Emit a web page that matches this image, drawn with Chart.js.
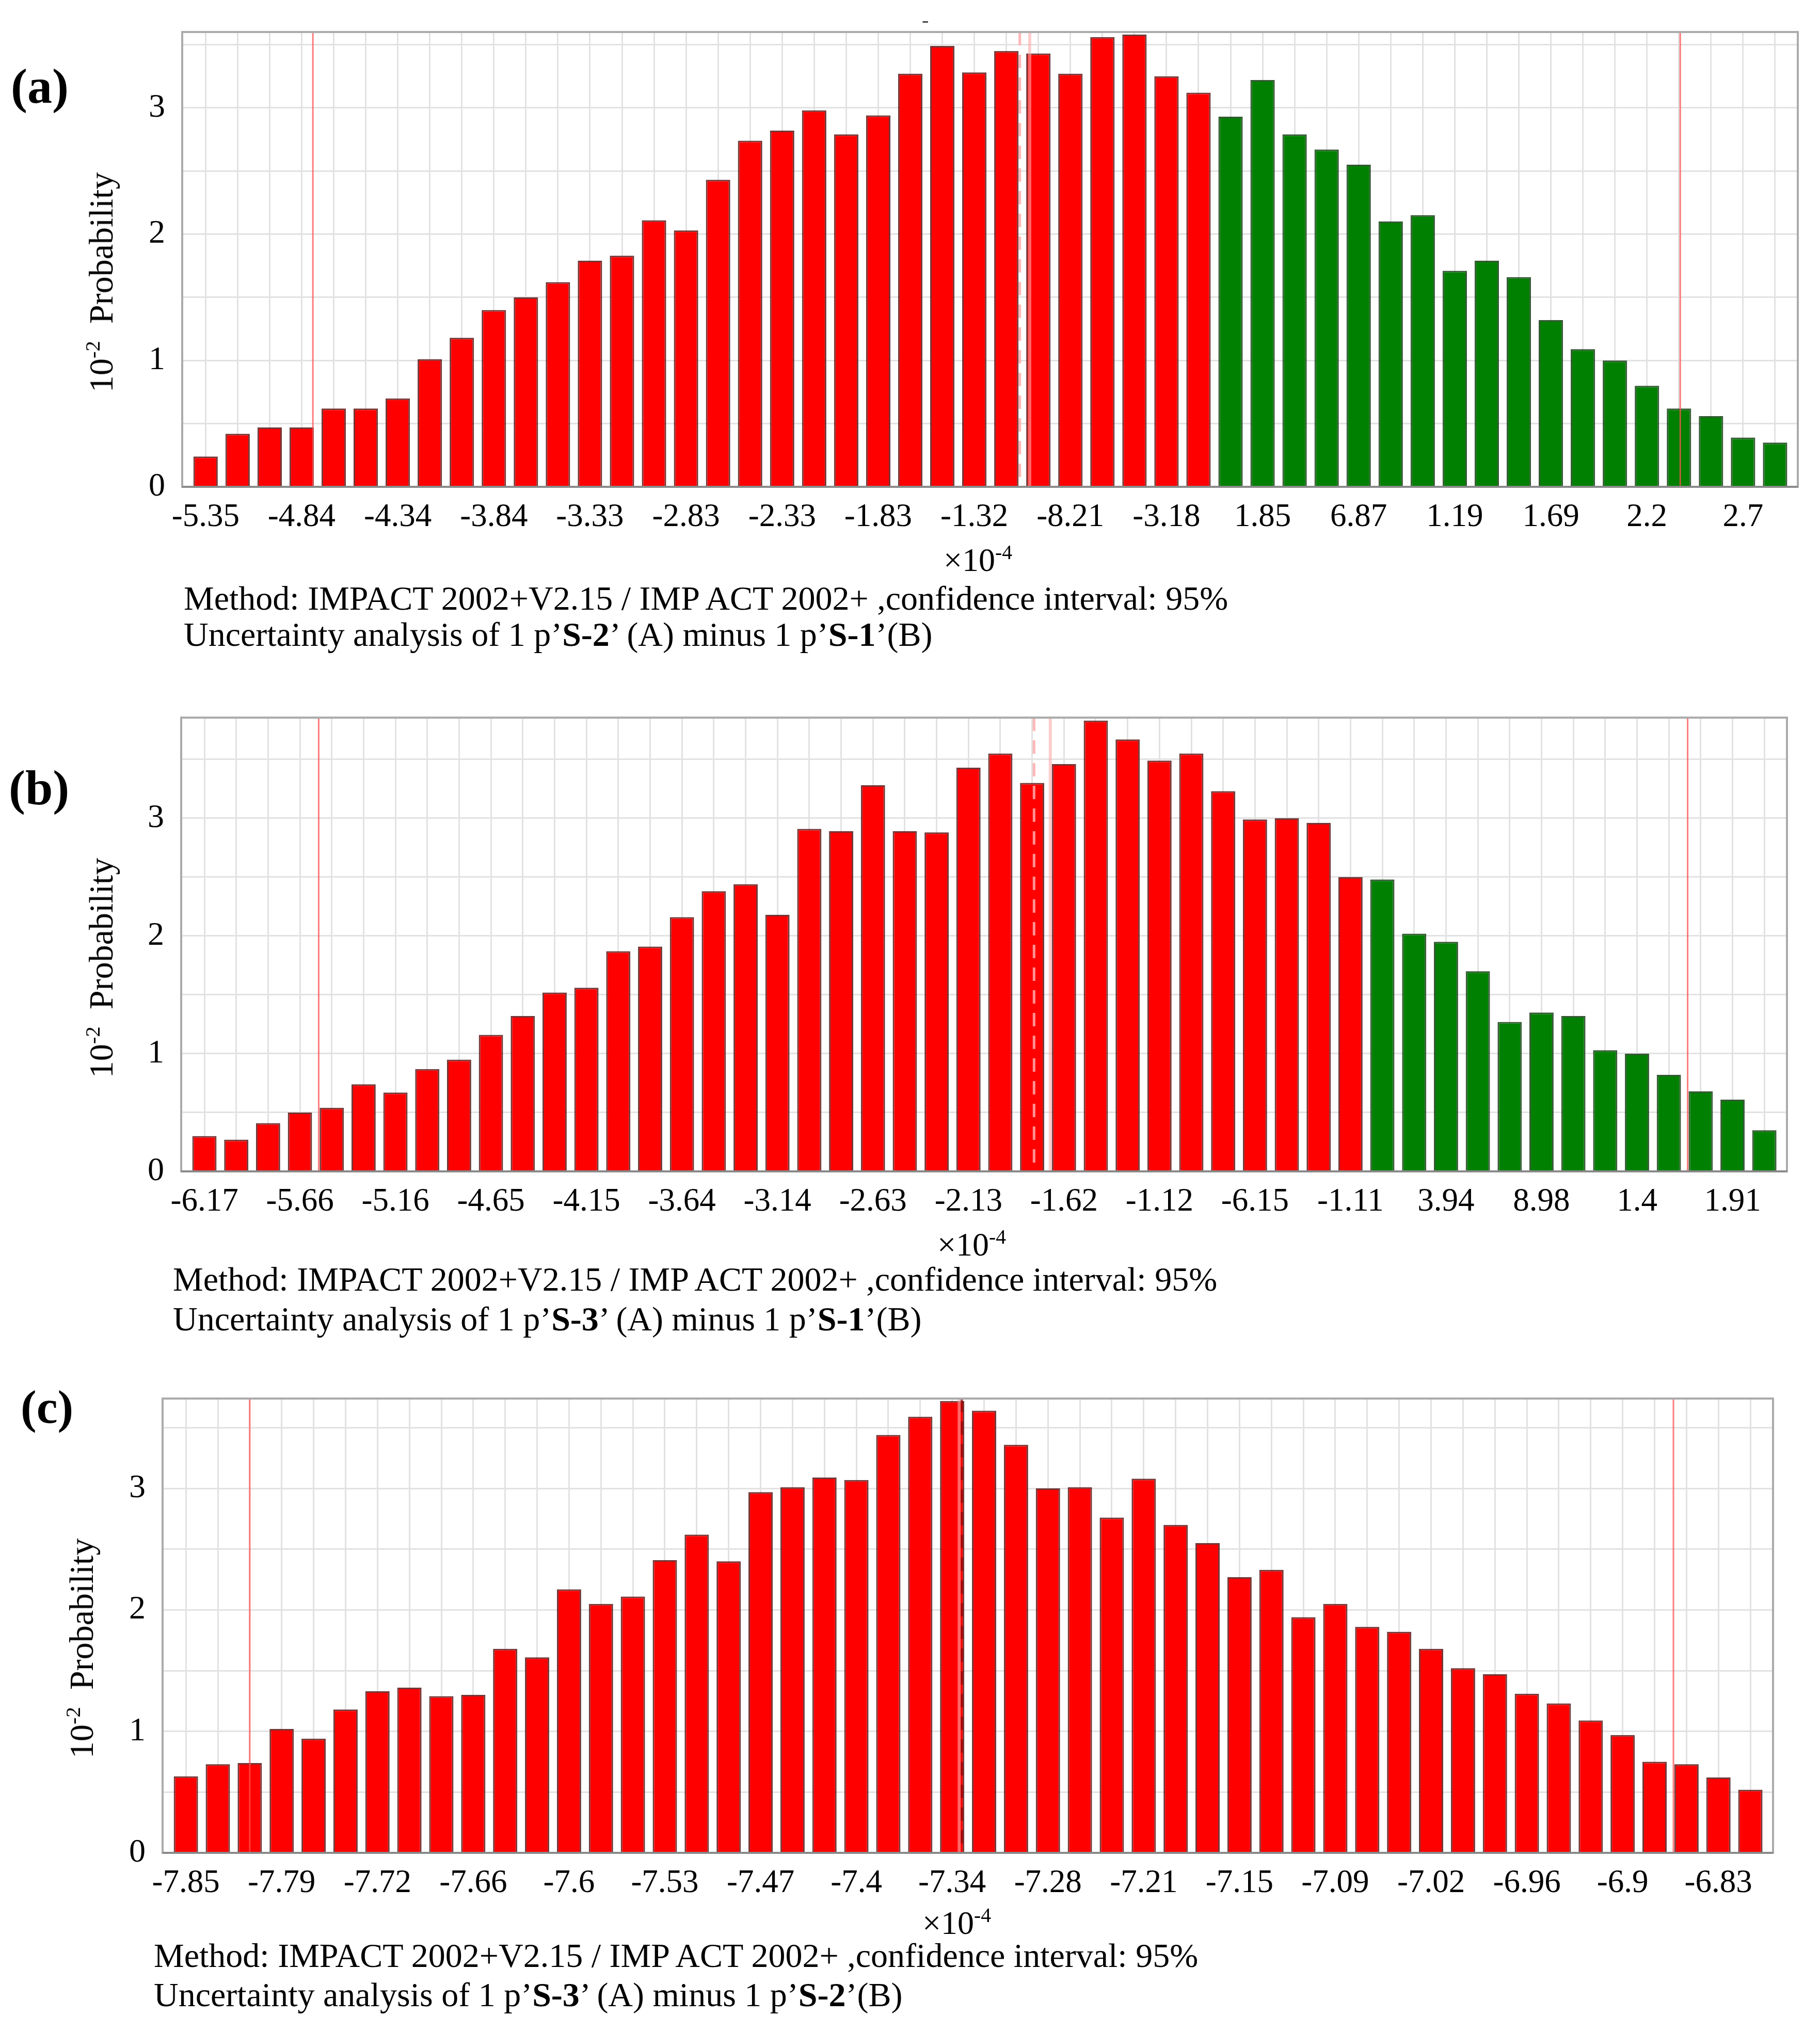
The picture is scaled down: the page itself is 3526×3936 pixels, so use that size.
<!DOCTYPE html>
<html>
<head>
<meta charset="utf-8">
<script src="https://cdn.jsdelivr.net/npm/chart.js@4.4.1/dist/chart.umd.min.js"></script>
<style>
  html, body { margin: 0; padding: 0; background: #fff; }
  body { width: 3526px; height: 3936px; position: relative; overflow: hidden;
         font-family: 'Liberation Serif', 'Times New Roman', serif; color: #000; }
  .box { position: absolute; }
  .txt { position: absolute; white-space: nowrap; line-height: 1; }
  .sup { font-size: 0.62em; position: relative; top: -0.6em; }
</style>
</head>
<body>
<script>
// (a) S-2 minus S-1, probability in 10^-2, one value per bin
const probA = [0.24, 0.42, 0.47, 0.47, 0.62, 0.62, 0.70, 1.01, 1.18, 1.40,
               1.50, 1.62, 1.79, 1.83, 2.11, 2.03, 2.43, 2.74, 2.82, 2.98,
               2.79, 2.94, 3.27, 3.49, 3.28, 3.45, 3.43, 3.27, 3.56, 3.58,
               3.25, 3.12, 2.93, 3.22, 2.79, 2.67, 2.55, 2.10, 2.15, 1.71,
               1.79, 1.66, 1.32, 1.09, 1.00, 0.80, 0.62, 0.56, 0.39, 0.35];
const ticksA = ['-5.35', '-4.84', '-4.34', '-3.84', '-3.33', '-2.83', '-2.33', '-1.83', '-1.32',
                '-8.21', '-3.18', '1.85', '6.87', '1.19', '1.69', '2.2', '2.7'];
const redCountA = 32;           // bins below zero (A < B)
const ciA = [3.35, 46.04];      // 95% interval, in bin units
const midA = [25.42, 25.73];    // dashed / solid centre lines

// (b) S-3 minus S-1
const probB = [0.30, 0.27, 0.41, 0.50, 0.54, 0.74, 0.67, 0.87, 0.95, 1.16,
               1.32, 1.52, 1.56, 1.87, 1.91, 2.16, 2.38, 2.44, 2.18, 2.91,
               2.89, 3.28, 2.89, 2.88, 3.43, 3.55, 3.30, 3.46, 3.83, 3.67,
               3.49, 3.55, 3.23, 2.99, 3.00, 2.96, 2.50, 2.48, 2.02, 1.95,
               1.70, 1.27, 1.35, 1.32, 1.03, 1.00, 0.82, 0.68, 0.61, 0.35];
const ticksB = ['-6.17', '-5.66', '-5.16', '-4.65', '-4.15', '-3.64', '-3.14', '-2.63', '-2.13',
                '-1.62', '-1.12', '-6.15', '-1.11', '3.94', '8.98', '1.4', '1.91'];
const redCountB = 37;
const ciB = [3.59, 46.59];
const midB = [26.06, 26.57];

// (c) S-3 minus S-2
const probC = [0.63, 0.73, 0.74, 1.02, 0.94, 1.18, 1.33, 1.36, 1.29, 1.30,
               1.68, 1.61, 2.17, 2.05, 2.11, 2.41, 2.62, 2.40, 2.97, 3.01,
               3.09, 3.07, 3.44, 3.59, 3.72, 3.64, 3.36, 3.00, 3.01, 2.76,
               3.08, 2.70, 2.55, 2.27, 2.33, 1.94, 2.05, 1.86, 1.82, 1.68,
               1.52, 1.47, 1.31, 1.23, 1.09, 0.97, 0.75, 0.73, 0.62, 0.52];
const ticksC = ['-7.85', '-7.79', '-7.72', '-7.66', '-7.6', '-7.53', '-7.47', '-7.4', '-7.34',
                '-7.28', '-7.21', '-7.15', '-7.09', '-7.02', '-6.96', '-6.9', '-6.83'];
const redCountC = 50;
const ciC = [2.0, 46.59];
const midC = [24.30, 24.22];

const FONT = "'Liberation Serif', 'Times New Roman', serif";
Chart.defaults.font.family = FONT;
Chart.defaults.color = '#000';

// draws the interval lines and the plot frame
const markerLines = {
  id: 'markerLines',
  afterDatasetsDraw(chart, args, opts) {
    const ctx = chart.ctx, a = chart.chartArea, x = chart.scales.x;
    ctx.save();
    ctx.beginPath();
    ctx.rect(a.left, a.top, a.right - a.left, a.bottom - a.top);
    ctx.clip();
    opts.lines.forEach(l => {
      const px = x.getPixelForValue(l.at);
      ctx.strokeStyle = l.color;
      ctx.lineWidth = l.width;
      ctx.setLineDash(l.dash || []);
      ctx.beginPath();
      ctx.moveTo(px, a.top);
      ctx.lineTo(px, a.bottom);
      ctx.stroke();
    });
    ctx.restore();

    ctx.save();
    ctx.strokeStyle = '#ababab';
    ctx.lineWidth = 4;
    ctx.strokeRect(a.left, a.top, a.right - a.left, a.bottom - a.top);
    ctx.strokeStyle = '#8a8a8a';
    ctx.beginPath();
    ctx.moveTo(a.left, a.bottom);
    ctx.lineTo(a.right, a.bottom);
    ctx.stroke();
    ctx.restore();
  }
};

function addText(html, left, baseline, size, extra) {
  const d = document.createElement('div');
  d.className = 'txt';
  d.innerHTML = html;
  d.style.left = left + 'px';
  d.style.top = (baseline - 0.8375 * size) + 'px';
  d.style.fontSize = size + 'px';
  if (extra) Object.assign(d.style, extra);
  document.body.appendChild(d);
}

function addYTitle(cx, cy) {
  const d = document.createElement('div');
  d.className = 'txt';
  d.innerHTML = '10<span class="sup">-2</span>&nbsp;&nbsp;Probability';
  d.style.fontSize = '66px';
  d.style.left = cx + 'px';
  d.style.top = cy + 'px';
  d.style.transform = 'translate(-50%, -50%) rotate(-90deg)';
  document.body.appendChild(d);
}

function drawPanel(p) {
  const padTop = 20, padRight = 20, axisH = 110;
  const box = document.createElement('div');
  box.className = 'box';
  box.style.left = '0px';
  box.style.top = (p.top - padTop) + 'px';
  box.style.width = (p.right + padRight) + 'px';
  box.style.height = (p.bottom - p.top + padTop + axisH) + 'px';
  const cv = document.createElement('canvas');
  box.appendChild(cv);
  document.body.appendChild(box);

  const colors = p.values.map((v, i) => i < p.redCount ? '#ff0000' : '#008000');
  const borders = p.values.map((v, i) => i < p.redCount ? 'rgba(90,20,20,0.85)' : 'rgba(20,60,20,0.85)');

  const lines = [
    { at: p.ci[0], color: 'rgba(255,80,80,0.75)', width: 3 },
    { at: p.ci[1], color: 'rgba(255,80,80,0.75)', width: 3 },
    { at: p.mid[0], color: p.dashColor, width: 5, dash: [26, 18] },
    { at: p.mid[1], color: 'rgba(255,170,170,0.6)', width: 6 }
  ];

  new Chart(cv, {
    type: 'bar',
    data: {
      datasets: [{
        data: p.values.map((v, i) => ({ x: i, y: v })),
        backgroundColor: colors,
        borderColor: borders,
        borderWidth: 3,
        barPercentage: 0.76,
        categoryPercentage: 1
      }]
    },
    options: {
      responsive: true,
      maintainAspectRatio: false,
      animation: false,
      layout: { autoPadding: false, padding: { top: padTop, right: padRight, left: 0, bottom: 0 } },
      plugins: {
        legend: { display: false },
        tooltip: { enabled: false },
        markerLines: { lines: lines }
      },
      scales: {
        x: {
          type: 'linear',
          offset: false,
          min: -0.73,
          max: 49.71,
          afterBuildTicks: s => { s.ticks = p.values.map((v, i) => ({ value: i })); },
          afterFit: s => { s.height = axisH; s.paddingLeft = 0; s.paddingRight = 0; },
          grid: { color: '#e2e2e2', lineWidth: 3, drawTicks: false, offset: false },
          border: { display: false },
          ticks: {
            autoSkip: false,
            maxRotation: 0,
            padding: 22,
            font: { size: 63 },
            callback: v => (v % 3 === 0 ? p.ticks[v / 3] : '')
          }
        },
        y: {
          min: 0,
          max: p.ymax,
          afterFit: s => { s.width = p.left; s.paddingTop = 0; s.paddingBottom = 0; },
          grid: { color: '#e2e2e2', lineWidth: 3, drawTicks: false },
          border: { display: false },
          ticks: {
            stepSize: 0.5,
            includeBounds: false,
            padding: 33,
            font: { size: 64 },
            callback: v => (Number.isInteger(v) ? v : '')
          }
        }
      }
    },
    plugins: [markerLines]
  });
}

drawPanel({ values: probA, ticks: ticksA, redCount: redCountA, ci: ciA, mid: midA,
            left: 353, right: 3483, top: 62, bottom: 943, ymax: 3.6,
            dashColor: 'rgba(255,170,170,0.85)' });
drawPanel({ values: probB, ticks: ticksB, redCount: redCountB, ci: ciB, mid: midB,
            left: 351, right: 3462, top: 1390, bottom: 2269, ymax: 3.855,
            dashColor: 'rgba(255,170,170,0.85)' });
drawPanel({ values: probC, ticks: ticksC, redCount: redCountC, ci: ciC, mid: midC,
            left: 315, right: 3435, top: 2709, bottom: 3589, ymax: 3.74,
            dashColor: 'rgba(140,0,0,0.7)' });

// panel letters
addText('(a)', 21, 199, 96, { fontWeight: 'bold' });
addText('(b)', 17, 1558, 96, { fontWeight: 'bold' });
addText('(c)', 40, 2756, 92, { fontWeight: 'bold' });

// stray dash above panel (a)
addText('-', 1786, 52, 40, { color: '#444' });

// y titles
addYTitle(196, 547);
addYTitle(196, 1875);
addYTitle(158, 3193);

// x multiplier
const mult = '&times;10<span class="sup">-4</span>';
addText(mult, 1828, 1107, 64);
addText(mult, 1816, 2433, 64);
addText(mult, 1787, 3747, 64);

// method captions
const method = 'Method: IMPACT 2002+V2.15 / IMP ACT 2002+ ,confidence interval: 95%';
addText(method, 356, 1181, 66);
addText('Uncertainty analysis of 1 p&rsquo;<b>S-2</b>&rsquo; (A) minus 1 p&rsquo;<b>S-1</b>&rsquo;(B)', 356, 1251, 66);
addText(method, 335, 2500, 66);
addText('Uncertainty analysis of 1 p&rsquo;<b>S-3</b>&rsquo; (A) minus 1 p&rsquo;<b>S-1</b>&rsquo;(B)', 335, 2577, 66);
addText(method, 298, 3810, 66);
addText('Uncertainty analysis of 1 p&rsquo;<b>S-3</b>&rsquo; (A) minus 1 p&rsquo;<b>S-2</b>&rsquo;(B)', 298, 3886, 66);
</script>
</body>
</html>
